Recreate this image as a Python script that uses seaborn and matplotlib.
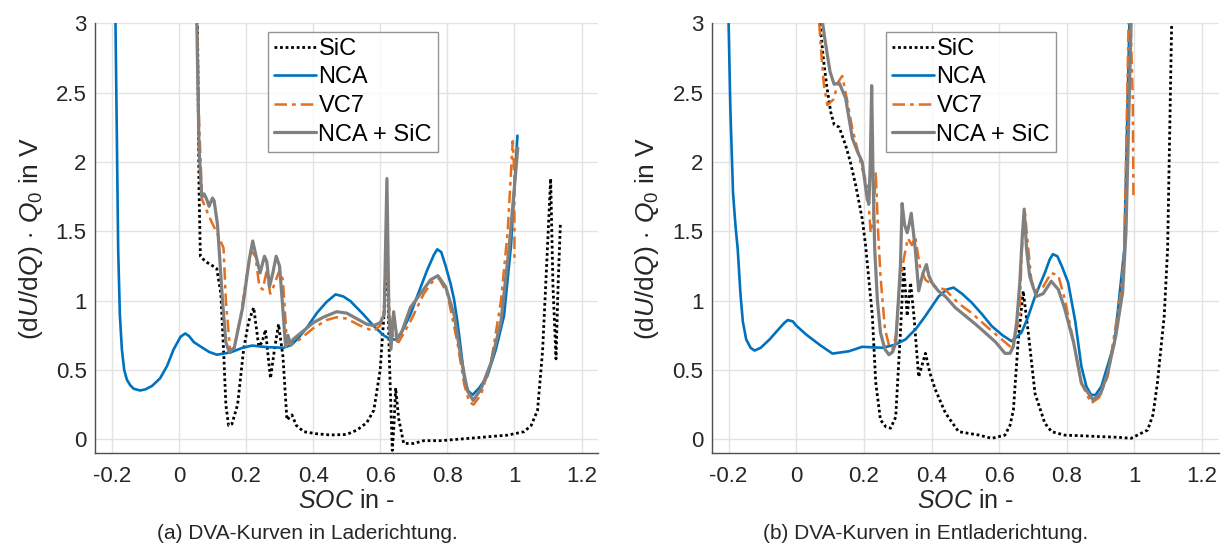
import matplotlib
matplotlib.use("Agg")
import matplotlib.pyplot as plt
import seaborn as sns
import numpy as np
import pandas as pd

# ---------------- data (a) Laderichtung ----------------
a_nca_x = [-0.19, -0.185, -0.181, -0.176, -0.17, -0.163, -0.155, -0.145, -0.135, -0.116, -0.1, -0.08, -0.056, -0.035,
           -0.016, 0.005, 0.019, 0.03, 0.045, 0.064, 0.09, 0.113, 0.153, 0.19, 0.218, 0.26, 0.312, 0.335, 0.352,
           0.38, 0.412, 0.44, 0.467, 0.49, 0.511, 0.55, 0.581, 0.61, 0.631, 0.645, 0.661, 0.69, 0.71, 0.74, 0.76,
           0.77, 0.782, 0.795, 0.81, 0.82, 0.83, 0.84, 0.85, 0.862, 0.875, 0.895, 0.919, 0.945, 0.969, 0.99, 1.009]
a_nca_y = [3.2, 2.2, 1.37, 0.9, 0.65, 0.5, 0.43, 0.39, 0.365, 0.352, 0.36, 0.385, 0.44, 0.53,
           0.647, 0.74, 0.763, 0.745, 0.7, 0.67, 0.63, 0.61, 0.626, 0.66, 0.676, 0.665, 0.66, 0.68, 0.72,
           0.8, 0.913, 0.99, 1.045, 1.03, 0.997, 0.9, 0.816, 0.75, 0.72, 0.72, 0.756, 0.9, 1.03, 1.22, 1.33,
           1.37, 1.35, 1.25, 1.12, 1.01, 0.85, 0.66, 0.45, 0.35, 0.32, 0.37, 0.454, 0.65, 0.89, 1.4, 2.19]

a_vc7_x = [0.054, 0.06, 0.069, 0.079, 0.095, 0.113, 0.133, 0.14, 0.153, 0.165, 0.185, 0.2, 0.215, 0.228, 0.24, 0.25,
           0.262, 0.272, 0.282, 0.3, 0.31, 0.322, 0.335, 0.36, 0.4, 0.44, 0.47, 0.5, 0.54, 0.58, 0.6, 0.61, 0.62,
           0.628, 0.64, 0.655, 0.69, 0.73, 0.76, 0.775, 0.8, 0.83, 0.85, 0.865, 0.878, 0.9, 0.93, 0.96, 0.98, 0.995, 1.0, 1.0]
a_vc7_y = [3.1, 2.3, 1.73, 1.67, 1.58, 1.49, 1.38, 1.0, 0.635, 0.66, 0.9, 1.15, 1.36, 1.32, 1.1, 1.08,
           1.22, 1.05, 1.1, 1.22, 1.15, 0.7, 0.68, 0.72, 0.8, 0.86, 0.88, 0.87, 0.82, 0.78, 0.82, 0.9, 1.3,
           0.9, 0.72, 0.7, 0.85, 1.05, 1.15, 1.16, 1.05, 0.7, 0.4, 0.27, 0.25, 0.32, 0.55, 1.0, 1.5, 2.15, 1.9, 1.27]

a_mix_x = [0.052, 0.06, 0.068, 0.075, 0.083, 0.09, 0.1, 0.105, 0.115, 0.13, 0.14, 0.15, 0.165, 0.19, 0.21, 0.22,
           0.232, 0.242, 0.255, 0.262, 0.27, 0.28, 0.29, 0.3, 0.308, 0.318, 0.325, 0.333, 0.34, 0.36, 0.4, 0.43, 0.47,
           0.5, 0.53, 0.56, 0.58, 0.6, 0.612, 0.62, 0.626, 0.632, 0.64, 0.65, 0.665, 0.69, 0.72, 0.75, 0.772, 0.795,
           0.82, 0.84, 0.86, 0.877, 0.9, 0.93, 0.96, 0.985, 1.01]
a_mix_y = [3.2, 2.1, 1.75, 1.77, 1.73, 1.68, 1.74, 1.72, 1.55, 1.0, 0.7, 0.63, 0.66, 0.95, 1.3, 1.43,
           1.3, 1.2, 1.32, 1.28, 1.1, 1.2, 1.32, 1.25, 1.0, 0.67, 0.75, 0.68, 0.72, 0.76, 0.84, 0.88, 0.92,
           0.91, 0.87, 0.83, 0.82, 0.84, 0.9, 1.88, 0.9, 0.65, 0.92, 0.72, 0.78, 0.95, 1.05, 1.15, 1.18, 1.1,
           0.9, 0.6, 0.35, 0.28, 0.36, 0.55, 0.85, 1.4, 2.1]

a_sic_x = [0.055, 0.06, 0.064, 0.08, 0.095, 0.113, 0.125, 0.133, 0.14, 0.148, 0.158, 0.175, 0.193, 0.208, 0.223,
           0.238, 0.248, 0.258, 0.266, 0.273, 0.285, 0.297, 0.31, 0.322, 0.337, 0.35, 0.372, 0.41, 0.452, 0.5,
           0.531, 0.56, 0.581, 0.6, 0.611, 0.62, 0.627, 0.636, 0.641, 0.646, 0.655, 0.67, 0.7, 0.73, 0.78, 0.83,
           0.88, 0.929, 0.98, 1.029, 1.05, 1.069, 1.084, 1.095, 1.108, 1.115, 1.124, 1.13, 1.137]
a_sic_y = [3.1, 1.8, 1.32, 1.28, 1.26, 1.23, 1.05, 0.65, 0.25, 0.1, 0.11, 0.25, 0.65, 0.85, 0.95,
           0.67, 0.7, 0.79, 0.6, 0.44, 0.65, 0.83, 0.6, 0.14, 0.176, 0.1, 0.055, 0.04, 0.031, 0.035,
           0.067, 0.12, 0.21, 0.5, 0.89, 1.4, 0.6, -0.08, 0.1, 0.37, 0.15, -0.03, -0.03, -0.01, -0.01, 0.0,
           0.01, 0.02, 0.03, 0.055, 0.1, 0.21, 0.64, 1.2, 1.88, 1.1, 0.58, 1.1, 1.55]

# ---------------- data (b) Entladerichtung ----------------
b_nca_x = [-0.2, -0.195, -0.187, -0.18, -0.173, -0.165, -0.158, -0.148, -0.135, -0.123, -0.105, -0.079, -0.05,
           -0.035, -0.025, -0.01, 0.0, 0.029, 0.07, 0.107, 0.156, 0.195, 0.254, 0.29, 0.323, 0.355, 0.382, 0.421,
           0.445, 0.465, 0.49, 0.519, 0.55, 0.578, 0.61, 0.637, 0.666, 0.685, 0.706, 0.735, 0.75, 0.759, 0.772,
           0.785, 0.804, 0.825, 0.843, 0.858, 0.872, 0.885, 0.902, 0.941, 0.97, 0.985]
b_nca_y = [3.0, 2.4, 1.78, 1.55, 1.37, 1.05, 0.85, 0.72, 0.66, 0.64, 0.66, 0.72, 0.8,
           0.84, 0.86, 0.85, 0.82, 0.756, 0.68, 0.618, 0.635, 0.667, 0.66, 0.68, 0.72, 0.8, 0.89, 1.03,
           1.08, 1.094, 1.05, 0.985, 0.9, 0.816, 0.75, 0.707, 0.77, 0.88, 1.03, 1.2, 1.3, 1.335, 1.32,
           1.25, 1.13, 0.85, 0.526, 0.38, 0.32, 0.32, 0.38, 0.696, 1.37, 3.0]

b_vc7_x = [0.068, 0.075, 0.082, 0.092, 0.11, 0.125, 0.136, 0.15, 0.165, 0.176, 0.195, 0.21, 0.22, 0.228, 0.235,
           0.242, 0.249, 0.262, 0.275, 0.284, 0.295, 0.305, 0.318, 0.33, 0.342, 0.352, 0.365, 0.382, 0.41, 0.44,
           0.48, 0.519, 0.56, 0.598, 0.632, 0.648, 0.66, 0.667, 0.676, 0.685, 0.695, 0.706, 0.73, 0.754, 0.775,
           0.794, 0.82, 0.843, 0.872, 0.895, 0.921, 0.96, 0.97, 0.985, 0.995, 0.997]
b_vc7_y = [3.0, 2.75, 2.55, 2.41, 2.45, 2.58, 2.62, 2.45, 2.25, 2.14, 1.95, 1.83, 1.49, 1.6, 1.93,
           1.5, 1.18, 0.8, 0.67, 0.65, 0.75, 1.1, 1.3, 1.45, 1.4, 1.46, 1.25, 1.15, 1.1, 1.08,
           0.98, 0.91, 0.82, 0.74, 0.67, 0.75, 0.89, 1.37, 1.64, 1.4, 1.15, 1.07, 1.1, 1.2, 1.18,
           1.01, 0.7, 0.405, 0.26, 0.3, 0.454, 1.06, 1.37, 3.3, 2.46, 1.76]

b_mix_x = [0.078, 0.085, 0.092, 0.1, 0.112, 0.127, 0.146, 0.166, 0.18, 0.195, 0.21, 0.215, 0.219, 0.223, 0.227,
           0.232, 0.24, 0.249, 0.262, 0.274, 0.285, 0.294, 0.302, 0.308, 0.313, 0.32, 0.328, 0.334, 0.34, 0.346,
           0.352, 0.362, 0.375, 0.385, 0.392, 0.401, 0.42, 0.441, 0.47, 0.5, 0.53, 0.558, 0.59, 0.617, 0.632,
           0.642, 0.652, 0.661, 0.668, 0.674, 0.681, 0.69, 0.696, 0.71, 0.73, 0.754, 0.775, 0.794, 0.82, 0.843,
           0.877, 0.9, 0.921, 0.945, 0.965, 0.975, 0.99]
b_mix_y = [3.0, 2.88, 2.77, 2.65, 2.56, 2.57, 2.46, 2.17, 2.08, 2.0, 1.73, 1.7, 2.0, 2.55, 1.9,
           1.37, 1.0, 0.77, 0.65, 0.61, 0.63, 0.696, 1.0, 1.25, 1.70, 1.55, 1.49, 1.55, 1.63, 1.5,
           1.37, 1.07, 1.2, 1.26, 1.18, 1.13, 1.07, 1.03, 0.95, 0.89, 0.83, 0.77, 0.7, 0.62, 0.62,
           0.67, 0.85, 1.13, 1.45, 1.66, 1.37, 1.18, 1.13, 1.03, 1.05, 1.14, 1.08, 0.94, 0.7, 0.405,
           0.285, 0.33, 0.478, 0.75, 1.06, 1.5, 3.0]

b_sic_x = [0.07, 0.08, 0.09, 0.102, 0.112, 0.127, 0.146, 0.16, 0.176, 0.195, 0.205, 0.21, 0.225, 0.235, 0.249,
           0.265, 0.279, 0.294, 0.308, 0.318, 0.328, 0.338, 0.348, 0.362, 0.382, 0.395, 0.411, 0.441, 0.48,
           0.539, 0.578, 0.617, 0.632, 0.642, 0.656, 0.671, 0.686, 0.706, 0.735, 0.755, 0.794, 0.85, 0.892,
           0.95, 0.99, 1.039, 1.055, 1.068, 1.088, 1.098, 1.11]
b_sic_y = [3.0, 2.75, 2.55, 2.36, 2.27, 2.25, 2.12, 2.0, 1.83, 1.59, 1.4, 1.27, 0.89, 0.41, 0.14,
           0.09, 0.08, 0.16, 0.77, 1.25, 0.89, 1.13, 0.89, 0.45, 0.62, 0.48, 0.36, 0.19, 0.055,
           0.031, 0.007, 0.03, 0.1, 0.21, 0.70, 1.07, 0.77, 0.33, 0.116, 0.055, 0.03, 0.025, 0.02,
           0.015, 0.007, 0.067, 0.18, 0.41, 0.89, 1.37, 3.0]

legend_labels = ["SiC", "NCA", "VC7", "NCA + SiC"]
xtick_vals = [-0.2, 0.0, 0.2, 0.4, 0.6, 0.8, 1.0, 1.2]
xtick_labels = ["-0.2", "0", "0.2", "0.4", "0.6", "0.8", "1", "1.2"]
ytick_vals = [0, 0.5, 1, 1.5, 2, 2.5, 3]
ytick_labels = ["0", "0.5", "1", "1.5", "2", "2.5", "3"]
captions = ["(a) DVA-Kurven in Laderichtung.", "(b) DVA-Kurven in Entladerichtung."]

# ---------------- style ----------------
sns.set_theme(style="white")
plt.rcParams["font.family"] = ["Liberation Sans", "DejaVu Sans"]
plt.rcParams["mathtext.fontset"] = "custom"
plt.rcParams["mathtext.rm"] = "Liberation Sans"
plt.rcParams["mathtext.it"] = "Liberation Sans:italic"
plt.rcParams["axes.unicode_minus"] = False

C_SIC = "#000000"
C_NCA = "#0072BD"
C_VC7 = "#E56F1F"
C_MIX = "#808080"

fig = plt.figure(figsize=(12.26, 5.54), dpi=100)
ax_a = fig.add_axes([0.0775, 0.182, 0.4105, 0.776])
ax_b = fig.add_axes([0.5805, 0.182, 0.4138, 0.776])

panels = [
    (ax_a, (a_sic_x, a_sic_y), (a_nca_x, a_nca_y), (a_vc7_x, a_vc7_y), (a_mix_x, a_mix_y)),
    (ax_b, (b_sic_x, b_sic_y), (b_nca_x, b_nca_y), (b_vc7_x, b_vc7_y), (b_mix_x, b_mix_y)),
]

for ax, sic, nca, vc7, mix in panels:
    styles = [
        (sic, C_SIC, (0, (1, 1)), 2.0),
        (nca, C_NCA, "-", 1.9),
        (vc7, C_VC7, (0, (5, 2, 1.5, 2)), 1.8),
        (mix, C_MIX, "-", 2.3),
    ]
    for (xs, ys), col, ls, lw in styles:
        sns.lineplot(x=xs, y=ys, ax=ax, color=col, linestyle=ls, linewidth=lw,
                     sort=False, estimator=None)
    ax.set_xlim(-0.25, 1.25)
    ax.set_ylim(-0.1, 3.0)
    ax.set_xticks(xtick_vals)
    ax.set_xticklabels(xtick_labels)
    ax.set_yticks(ytick_vals)
    ax.set_yticklabels(ytick_labels)
    ax.grid(True, color="#E3E3E3", linewidth=1.0)
    ax.set_axisbelow(True)
    for s in ["top", "right"]:
        ax.spines[s].set_visible(False)
    for s in ["left", "bottom"]:
        ax.spines[s].set_color("#4D4D4D")
        ax.spines[s].set_linewidth(1.0)
    ax.tick_params(axis="both", direction="in", length=5, width=0.8, color="#4D4D4D",
                   labelsize=16, labelcolor="#262626", pad=6)
    ax.tick_params(axis="x", pad=9)
    ax.set_xlabel(r"$SOC$ in -", fontsize=18, color="#262626", labelpad=2)
    ax.set_ylabel(r"$(\mathrm{d}U/\mathrm{d}Q)\,\cdot\,Q_{\mathit{0}}$ in V", fontsize=19,
                  color="#262626", labelpad=8)
    handles = ax.get_lines()[:4]
    leg = ax.legend(handles, legend_labels, loc="upper left", bbox_to_anchor=(0.343, 0.98),
                    fontsize=17, frameon=True, fancybox=False, edgecolor="#7A7A7A",
                    handlelength=1.8, handletextpad=0.1, labelspacing=0.28, borderpad=0.25,
                    borderaxespad=0.0)
    leg.get_frame().set_linewidth(1.0)
    for t in leg.get_texts():
        t.set_color("#000000")

fig.text(0.251, 0.02, captions[0], ha="center", va="bottom", fontsize=15, color="#262626")
fig.text(0.755, 0.02, captions[1], ha="center", va="bottom", fontsize=15, color="#262626")

fig.savefig("out.png", dpi=100)
